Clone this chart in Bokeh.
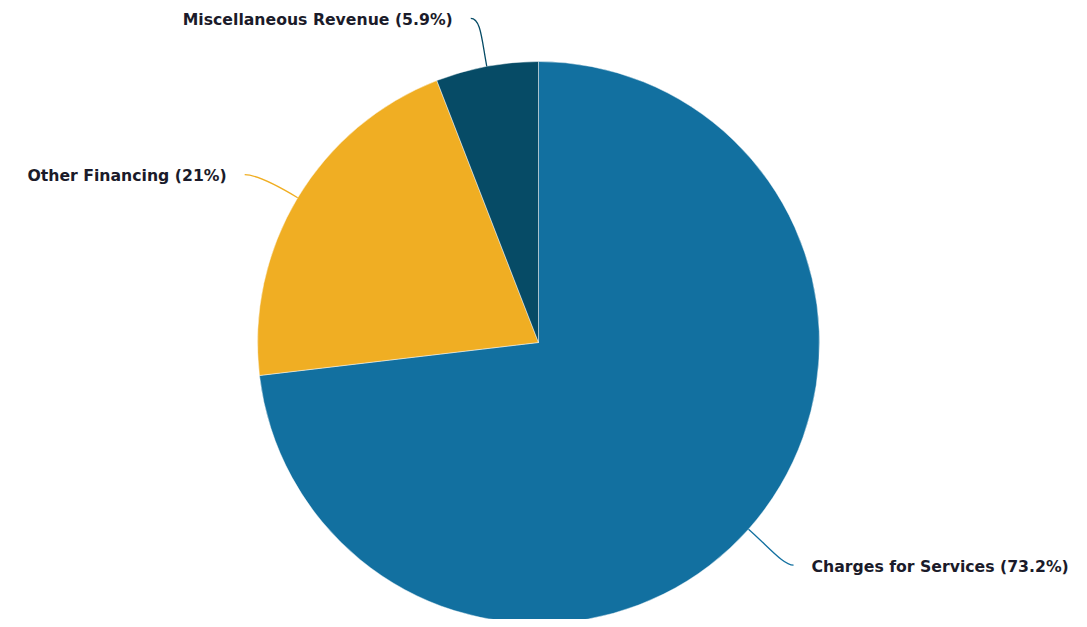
import math
from bokeh.plotting import figure
from bokeh.models import Range1d, ColumnDataSource
from bokeh.core.properties import value
from bokeh.embed import file_html
from bokeh.resources import INLINE

# ---- data ----
categories = ["Charges for Services", "Other Financing", "Miscellaneous Revenue"]
shares = [73.2, 21.0, 5.9]
share_labels = ["73.2%", "21%", "5.9%"]
colors = ["#1270A0", "#F0AE23", "#064B66"]

# ---- layout (page pixels; data y = 627 - screen y) ----
W, H = 1071, 619
CX, CY = 538, 627 - 342
R = 281
# leader end offsets from slice mid-point on rim (data units)
leader_off = [(45, -36), (-53, 23), (-16, 48)]
text_gap = 18

p = figure(width=W, height=H, output_backend="svg", toolbar_location=None,
           x_range=Range1d(0, W), y_range=Range1d(627 - H, 627),
           min_border=0, outline_line_color=None, background_fill_color="white")
p.axis.visible = False
p.grid.visible = False

total = sum(shares)
starts, ends, mids = [], [], []
cum = 0.0
for s in shares:
    a0 = math.pi / 2 - 2 * math.pi * (cum + s) / total
    a1 = math.pi / 2 - 2 * math.pi * cum / total
    starts.append(a0)
    ends.append(a1)
    mids.append((a0 + a1) / 2)
    cum += s

src = ColumnDataSource(dict(start=starts, end=ends, color=colors,
                            x=[CX] * 3, y=[CY] * 3))
p.wedge(x="x", y="y", radius=R, start_angle="start", end_angle="end",
        fill_color="color", line_color="white", line_alpha=0.45, line_width=1,
        source=src)

for i, cat in enumerate(categories):
    m = mids[i]
    x0 = CX + R * math.cos(m)
    y0 = CY + R * math.sin(m)
    dx, dy = leader_off[i]
    x3, y3 = x0 + dx, y0 + dy
    cx0 = x0 + 28 * math.cos(m)
    cy0 = y0 + 28 * math.sin(m)
    side = 1 if dx > 0 else -1
    cx1 = x3 - side * 10
    cy1 = y3
    p.bezier(x0=[x0], y0=[y0], x1=[x3], y1=[y3], cx0=[cx0], cy0=[cy0],
             cx1=[cx1], cy1=[cy1], line_color=colors[i], line_width=1.3)
    label = f"{cat} ({share_labels[i]})"
    p.text(x=[x3 + side * text_gap], y=[y3 - 1], text=[label],
           text_align="left" if side > 0 else "right", text_baseline="middle",
           text_font=value("DejaVu Sans"), text_font_style="bold",
           text_font_size="15.7px", text_color="#1b1b2a")

open("out.html", "w").write(file_html(p, INLINE))
